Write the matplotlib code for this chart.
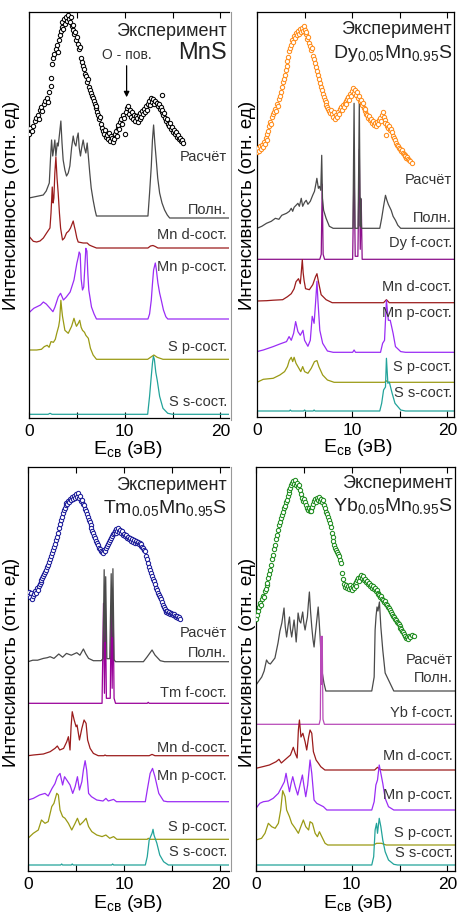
import numpy as np
import matplotlib.pyplot as plt
from matplotlib.lines import Line2D

plt.rcParams['font.family'] = ['Liberation Sans', 'DejaVu Sans']
plt.rcParams['mathtext.fontset'] = 'custom'
plt.rcParams['mathtext.rm'] = 'Liberation Sans'

# ---------- данные: (E_св, интенсивность), отн. ед ----------
# MnS
mns_exp = [(0.05, 14), (0.15, 20), (0.3, 17), (0.45, 22), (0.6, 27), (0.75, 30), (0.9, 33), (1.0, 29),
           (1.15, 38), (1.3, 41), (1.4, 37), (1.55, 44), (1.7, 47), (1.85, 50), (1.95, 46), (2.1, 56),
           (2.25, 62), (2.35, 70), (2.45, 84), (2.55, 90), (2.65, 94), (2.8, 99), (2.9, 103), (3.0, 96),
           (3.1, 108), (3.2, 113), (3.3, 117), (3.4, 121), (3.5, 126), (3.55, 119), (3.65, 129), (3.75, 124),
           (3.85, 131), (3.95, 127), (4.05, 133), (4.15, 129), (4.25, 126), (4.35, 131), (4.45, 122),
           (4.55, 118), (4.65, 123), (4.75, 114), (4.85, 116), (4.95, 108), (5.05, 111), (5.15, 104),
           (5.25, 99), (5.35, 101), (5.45, 90), (5.55, 86), (5.65, 82), (5.75, 79), (5.85, 74), (5.95, 72),
           (6.05, 66), (6.15, 69), (6.25, 61), (6.35, 58), (6.45, 55), (6.55, 52), (6.65, 50), (6.75, 47),
           (6.85, 44), (6.95, 40), (7.05, 42), (7.15, 36), (7.25, 33), (7.35, 29), (7.45, 31), (7.55, 24),
           (7.65, 20), (7.75, 17), (7.85, 14), (7.95, 18), (8.05, 11), (8.15, 13), (8.25, 9), (8.35, 15),
           (8.45, 7), (8.55, 12), (8.65, 10), (8.75, 6), (8.85, 9), (8.95, 14), (9.05, 17), (9.15, 12),
           (9.25, 20), (9.35, 23), (9.45, 19), (9.55, 26), (9.65, 29), (9.75, 24), (9.85, 33), (9.95, 30),
           (10.05, 14), (10.15, 36), (10.25, 40), (10.35, 42), (10.45, 34), (10.55, 38), (10.65, 31),
           (10.75, 36), (10.85, 29), (10.95, 33), (11.05, 27), (11.15, 32), (11.25, 30), (11.35, 26),
           (11.45, 33), (11.55, 29), (11.65, 35), (11.75, 31), (11.85, 37), (11.95, 34), (12.05, 39),
           (12.15, 36), (12.25, 42), (12.35, 38), (12.45, 44), (12.55, 47), (12.65, 43), (12.75, 50),
           (12.85, 46), (12.95, 49), (13.05, 44), (13.15, 47), (13.35, 45), (13.45, 42), (13.55, 44),
           (13.65, 39), (13.75, 41), (13.85, 36), (13.9, 53), (13.95, 38), (14.05, 33), (14.15, 35),
           (14.25, 30), (14.35, 27), (14.45, 29), (14.55, 24), (14.65, 22), (14.75, 25), (14.85, 19),
           (14.95, 21), (15.05, 16), (15.15, 18), (15.25, 14), (15.35, 16), (15.45, 11), (15.55, 13),
           (15.65, 9), (15.75, 10), (15.85, 7), (15.95, 8), (16.05, 5)]
mns_total = [(0, 20), (0.5, 21), (1.0, 22), (1.49, 23), (1.8, 27), (2.12, 35), (2.25, 60), (2.36, 78),
             (2.48, 62), (2.6, 70), (2.7, 78), (2.81, 62), (2.95, 75), (3.05, 72), (3.2, 85), (3.33, 97),
             (3.45, 75), (3.57, 58), (3.75, 48), (3.92, 42), (4.1, 45), (4.27, 52), (4.45, 70), (4.62, 82),
             (4.75, 75), (4.9, 72), (5.02, 80), (5.14, 85), (5.25, 70), (5.38, 62), (5.5, 70), (5.66, 78),
             (5.8, 70), (5.94, 65), (6.08, 75), (6.2, 62), (6.35, 45), (6.5, 30), (6.7, 18), (6.9, 8),
             (7.05, 2), (12.43, 2), (12.6, 25), (12.78, 52), (12.9, 78), (13.02, 93), (13.15, 75),
             (13.3, 58), (13.45, 40), (13.65, 25), (13.9, 15), (14.17, 8), (14.45, 3), (14.7, 0), (20.9, 0)]
mns_mn_d = [(0, 11.7), (0.45, 6.7), (0.8, 6), (1.15, 7), (1.5, 10), (1.84, 15), (2.19, 20), (2.3, 35),
            (2.43, 61), (2.52, 45), (2.6, 50), (2.7, 75), (2.81, 91), (2.93, 70), (3.05, 55), (3.18, 35),
            (3.3, 20), (3.5, 8), (3.7, 10), (3.92, 15), (4.15, 17), (4.34, 20), (4.5, 24), (4.62, 27),
            (4.73, 22), (4.83, 18), (5.0, 10), (5.14, 6), (5.66, 5), (6.08, 5), (6.3, 3), (6.53, 2),
            (7.05, 0), (12.43, 0), (12.7, 2), (12.95, 2.5), (13.2, 1.5), (13.47, 0), (20.9, 0)]
mns_mn_p = [(0, 6.3), (0.5, 10.7), (1.2, 14), (1.5, 17), (1.8, 15), (2.2, 10.7), (2.5, 7.3), (2.7, 11.7),
            (3.05, 22), (3.3, 25.7), (3.6, 19), (3.9, 22), (4.3, 27), (4.7, 39), (5.0, 55.7), (5.15, 62),
            (5.24, 67), (5.35, 65), (5.45, 40), (5.59, 29), (5.72, 32), (5.85, 55), (5.94, 70.7),
            (6.05, 68), (6.15, 45), (6.25, 29), (6.53, 12), (6.8, 5), (7.05, 0), (12.43, 0), (12.6, 5),
            (12.78, 19), (12.9, 35), (13.02, 49), (13.2, 56), (13.3, 50), (13.47, 36), (13.65, 26),
            (13.82, 19), (14.05, 9), (14.3, 2.3), (14.5, 0), (20.9, 0)]
mns_s_p = [(0, 9.3), (0.8, 9.3), (1.3, 10), (1.6, 12.7), (1.9, 14), (2.1, 12), (2.3, 17.7), (2.55, 17),
           (2.75, 20), (2.9, 26), (3.1, 33), (3.2, 39), (3.33, 59), (3.42, 50), (3.5, 43), (3.75, 29),
           (4.1, 26), (4.45, 33), (4.7, 41), (4.85, 36), (4.96, 33), (5.15, 36), (5.3, 39), (5.45, 32),
           (5.59, 29), (5.8, 27), (5.94, 24), (6.2, 21), (6.42, 11), (6.7, 4.3), (7.05, 0), (12.4, 0),
           (12.7, 2), (13.05, 4.3), (13.4, 2), (14.0, 0), (20.9, 0)]
mns_s_s = [(0, 0), (2.0, 0), (2.2, 1), (2.4, 0), (12.4, 0), (12.6, 18), (12.75, 35), (12.9, 51), (13.0, 58),
           (13.1, 55), (13.25, 42), (13.4, 34), (13.65, 18), (14.0, 6), (14.5, 1), (15.0, 0), (20.9, 0)]

# Dy0.05Mn0.95S
dy_exp = [(0.0, 15), (0.1, 19), (0.2, 16), (0.3, 21), (0.4, 18), (0.5, 22), (0.6, 20), (0.7, 25), (0.8, 23),
          (0.9, 29), (1.0, 27), (1.1, 33), (1.2, 36), (1.3, 41), (1.4, 45), (1.5, 43), (1.6, 50), (1.7, 53),
          (1.8, 55), (1.9, 58), (2.0, 56), (2.1, 63), (2.2, 61), (2.3, 68), (2.4, 71), (2.5, 75), (2.6, 80),
          (2.7, 85), (2.8, 88), (2.9, 92), (3.0, 97), (3.1, 101), (3.2, 106), (3.3, 110), (3.4, 116),
          (3.5, 119), (3.6, 122), (3.7, 127), (3.8, 125), (3.9, 131), (4.0, 129), (4.1, 134), (4.2, 132),
          (4.3, 136), (4.4, 133), (4.5, 138), (4.6, 135), (4.7, 139), (4.8, 136), (4.9, 141), (5.0, 137),
          (5.1, 133), (5.2, 135), (5.3, 128), (5.4, 130), (5.5, 124), (5.6, 121), (5.7, 117), (5.8, 119),
          (5.9, 111), (6.0, 108), (6.1, 104), (6.2, 100), (6.3, 96), (6.4, 92), (6.5, 88), (6.6, 84),
          (6.7, 80), (6.8, 77), (6.9, 73), (7.0, 70), (7.1, 67), (7.2, 65), (7.3, 62), (7.4, 60), (7.5, 58),
          (7.6, 56), (7.7, 54), (7.8, 57), (7.9, 53), (8.0, 50), (8.1, 55), (8.2, 48), (8.3, 52), (8.4, 50),
          (8.5, 55), (8.6, 53), (8.7, 58), (8.8, 60), (8.9, 57), (9.0, 62), (9.1, 60), (9.2, 64), (9.3, 66),
          (9.4, 63), (9.5, 68), (9.6, 70), (9.7, 67), (9.8, 73), (9.9, 71), (10.0, 76), (10.1, 79),
          (10.2, 74), (10.3, 77), (10.4, 72), (10.5, 75), (10.6, 69), (10.7, 71), (10.8, 66), (10.9, 67),
          (11.0, 62), (11.1, 64), (11.2, 59), (11.3, 56), (11.4, 58), (11.5, 53), (11.6, 52), (11.7, 49),
          (11.8, 51), (11.9, 47), (12.0, 48), (12.1, 44), (12.2, 46), (12.3, 42), (12.4, 44), (12.5, 41),
          (12.6, 45), (12.7, 43), (12.8, 47), (12.9, 49), (13.0, 46), (13.1, 52), (13.2, 55), (13.3, 50),
          (13.4, 47), (13.5, 44), (13.6, 32), (13.65, 41), (13.7, 43), (13.8, 39), (13.9, 41), (14.0, 37),
          (14.1, 38), (14.2, 35), (14.3, 31), (14.4, 29), (14.5, 27), (14.6, 24), (14.7, 22), (14.8, 21),
          (14.9, 19), (15.0, 18), (15.1, 16), (15.2, 17), (15.3, 14), (15.4, 13), (15.5, 12), (15.6, 11),
          (15.7, 9), (15.8, 10), (15.9, 8), (16.0, 7), (16.1, 6), (16.3, 4)]
dy_total = [(0, 0), (0.5, 2), (1.0, 5), (1.5, 7), (1.93, 10), (2.3, 9), (2.6, 13), (3.1, 15), (3.4, 17),
            (3.6, 20), (3.75, 17), (3.9, 21), (4.3, 25), (4.45, 22), (4.65, 30), (4.8, 22), (5.0, 26),
            (5.17, 28), (5.35, 24), (5.6, 27), (5.85, 33), (6.04, 37), (6.2, 45), (6.29, 50), (6.45, 40),
            (6.56, 42), (6.7, 38), (6.8, 73), (6.88, 30), (7.0, 18), (7.26, 10), (7.6, 2), (8.0, 0),
            (10.08, 0), (10.2, 125), (10.3, 0), (10.62, 0), (10.75, 128), (10.85, 2), (10.9, 30),
            (10.98, 0), (12.9, 0), (13.1, 10), (13.3, 22), (13.5, 33), (13.65, 28), (13.8, 24), (14.1, 18),
            (14.3, 12), (14.55, 8), (14.8, 3), (15.1, 0), (20.7, 0)]
dy_f = [(0, 0), (6.6, 0), (6.75, 5), (6.85, 75), (6.95, 5), (7.1, 0), (10.05, 0), (10.2, 95), (10.32, 3),
        (10.6, 3), (10.75, 110), (10.85, 10), (10.95, 60), (11.05, 0), (20.7, 0)]
dy_mn_d = [(0, 1.7), (1.0, 2), (1.7, 2.5), (2.7, 3), (3.2, 6), (3.6, 9), (3.9, 14), (4.1, 21), (4.36, 24),
           (4.55, 19), (4.65, 30), (4.76, 43), (4.85, 30), (4.95, 22), (5.1, 14), (5.5, 13), (5.86, 18),
           (6.15, 26), (6.3, 29), (6.5, 19), (6.74, 8), (7.26, 3), (7.9, 0), (13.3, 0), (13.6, 3),
           (13.9, 0), (20.7, 0)]
dy_mn_p = [(0, 0.7), (0.66, 2.3), (1.7, 5.7), (2.4, 8.3), (3.1, 10.7), (3.37, 15.7), (3.6, 12), (3.85, 19),
           (4.06, 30.7), (4.3, 20.7), (4.55, 17), (4.83, 22), (5.0, 12), (5.35, 6), (5.6, 12), (5.8, 36),
           (6.0, 29), (6.15, 49), (6.3, 71), (6.4, 52), (6.6, 22), (6.9, 9), (7.4, 1.3), (8.0, 0),
           (10.05, 0), (10.2, 2.3), (10.35, 0), (12.98, 0), (13.2, 9), (13.4, 12), (13.6, 52), (13.8, 32),
           (14.0, 32), (14.3, 19), (14.55, 5.7), (15.1, 0.7), (15.6, 0), (20.7, 0)]
dy_s_p = [(0, 0), (0.66, 3), (1.7, 4), (2.4, 7.3), (2.9, 10.7), (3.2, 15.7), (3.4, 22), (3.6, 25),
          (3.75, 20.7), (3.9, 25), (4.1, 19), (4.3, 15.7), (4.6, 10.7), (4.8, 15.7), (5.0, 10.7), (5.35, 9),
          (5.7, 14), (6.04, 20.7), (6.3, 21.7), (6.5, 15.7), (6.9, 7.3), (7.4, 2.3), (8.1, 0), (13.4, 0),
          (13.6, 1.5), (13.8, 0), (20.7, 0)]
dy_s_s = [(0, 0), (3.4, 0), (3.5, 1), (3.6, 0), (4.9, 0), (5.0, 1), (5.1, 0), (5.9, 0), (6.0, 1), (6.1, 0),
          (12.9, 0), (13.1, 7.7), (13.3, 21), (13.5, 24), (13.6, 52.7), (13.75, 27.7), (13.9, 29),
          (14.2, 17.7), (14.5, 7.7), (15.1, 1), (15.6, 0), (20.7, 0)]

# Tm0.05Mn0.95S
tm_exp = [(0.0, 26), (0.1, 29), (0.2, 24), (0.3, 28), (0.4, 22), (0.5, 25), (0.6, 27), (0.7, 30), (0.8, 28),
          (0.9, 33), (1.0, 31), (1.1, 35), (1.2, 37), (1.3, 39), (1.4, 41), (1.5, 43), (1.6, 45), (1.7, 47),
          (1.8, 49), (1.9, 51), (2.0, 54), (2.1, 56), (2.2, 59), (2.3, 62), (2.4, 65), (2.5, 68), (2.6, 71),
          (2.7, 74), (2.8, 77), (2.9, 81), (3.0, 84), (3.1, 88), (3.2, 93), (3.3, 97), (3.4, 101),
          (3.5, 104), (3.6, 108), (3.7, 111), (3.8, 113), (3.9, 116), (4.0, 118), (4.1, 117), (4.2, 120),
          (4.3, 119), (4.4, 122), (4.5, 121), (4.6, 124), (4.7, 122), (4.8, 125), (4.9, 123), (5.0, 127),
          (5.1, 124), (5.2, 128), (5.3, 123), (5.4, 125), (5.5, 120), (5.6, 121), (5.7, 117), (5.8, 116),
          (5.9, 112), (6.0, 110), (6.1, 107), (6.2, 104), (6.3, 101), (6.4, 99), (6.5, 96), (6.6, 93),
          (6.7, 90), (6.8, 88), (6.9, 85), (7.0, 83), (7.1, 80), (7.2, 78), (7.3, 76), (7.4, 73), (7.5, 72),
          (7.6, 70), (7.7, 69), (7.8, 68), (7.9, 71), (8.0, 70), (8.1, 73), (8.2, 75), (8.3, 77), (8.4, 79),
          (8.5, 81), (8.6, 83), (8.7, 85), (8.8, 87), (8.9, 88), (9.0, 90), (9.1, 88), (9.2, 92), (9.3, 90),
          (9.4, 93), (9.5, 89), (9.6, 91), (9.7, 88), (9.8, 90), (9.9, 86), (10.0, 87), (10.1, 85),
          (10.2, 86), (10.3, 83), (10.4, 84), (10.5, 82), (10.6, 83), (10.7, 80), (10.8, 82), (10.9, 79),
          (11.0, 81), (11.1, 78), (11.2, 80), (11.3, 78), (11.4, 79), (11.5, 77), (11.6, 78), (11.7, 75),
          (11.8, 77), (11.9, 74), (12.0, 73), (12.1, 71), (12.2, 70), (12.3, 65), (12.4, 62), (12.5, 58),
          (12.6, 54), (12.7, 51), (12.8, 48), (12.9, 45), (13.0, 42), (13.1, 40), (13.2, 37), (13.3, 33),
          (13.4, 31), (13.5, 28), (13.6, 26), (13.7, 24), (13.8, 22), (13.9, 19), (14.0, 16), (14.1, 14),
          (14.2, 12), (14.3, 10), (14.4, 9), (14.5, 10), (14.6, 8), (14.7, 9), (14.8, 7), (14.9, 8),
          (15.0, 7), (15.1, 6), (15.2, 7), (15.3, 5), (15.4, 4), (15.5, 5), (15.6, 3), (15.7, 4), (15.8, 2)]
tm_total = [(0, 0), (0.5, 1.5), (1.0, 1.5), (1.6, 3.3), (2.0, 4), (2.3, 5), (2.7, 3.3), (3.2, 7.7),
            (3.6, 4.5), (4.0, 8.3), (4.5, 6.5), (5.07, 9), (5.4, 6.5), (5.76, 12.7), (6.0, 8), (6.3, 3.3),
            (6.8, 1), (7.6, 1), (7.8, 3), (7.92, 92), (8.0, 20), (8.08, 85), (8.2, 3), (8.5, 3), (8.65, 88),
            (8.75, 25), (8.83, 93), (8.95, 2), (9.1, 0), (12.0, 0), (12.4, 5), (12.9, 11.7), (13.2, 6.7),
            (13.75, 1), (14.2, 0), (20.9, 0)]
tm_f = [(0, 0), (7.7, 0), (7.85, 100), (7.95, 10), (8.05, 95), (8.15, 5), (8.55, 5), (8.65, 95), (8.75, 15),
        (8.85, 100), (8.95, 5), (9.1, 0), (12.4, 0), (12.5, 1), (12.6, 0), (20.9, 0)]
tm_mn_d = [(0, 0), (0.55, 0.7), (1.6, 1.7), (2.3, 4), (2.8, 7.3), (3.05, 9.7), (3.3, 5.7), (3.7, 7.3),
           (4.03, 14), (4.2, 19), (4.37, 5.7), (4.48, 29), (4.6, 44), (4.8, 35.7), (5.0, 29), (5.1, 30.7),
           (5.35, 15.7), (5.6, 27.3), (5.83, 35.7), (6.04, 32.3), (6.2, 15.7), (6.46, 7.3), (6.8, 2.3),
           (7.3, 0), (7.9, 0), (8.0, 0.7), (8.15, 0), (12.6, 0), (12.9, 1.3), (13.2, 0), (20.9, 0)]
tm_mn_p = [(0, 1.7), (0.55, 3.3), (1.2, 6.7), (1.77, 8.3), (2.1, 5.7), (2.5, 13.3), (2.8, 18), (3.05, 25),
           (3.33, 28.3), (3.6, 16.7), (3.8, 25), (4.03, 21.7), (4.37, 16.7), (4.65, 8.3), (4.9, 15),
           (5.14, 25), (5.35, 11.7), (5.6, 20), (5.76, 31.7), (5.94, 41), (6.1, 31.7), (6.3, 8.3),
           (6.6, 5), (7.15, 1.7), (7.8, 0.7), (8.1, 3.3), (8.35, 0.7), (8.9, 2.3), (9.2, 0), (12.2, 0),
           (12.4, 11.7), (12.7, 28.3), (12.95, 33.3), (13.2, 25), (13.6, 8.3), (14.1, 0.7), (14.5, 0),
           (20.9, 0)]
tm_s_p = [(0, 1), (0.55, 6), (1.07, 9.3), (1.4, 19.3), (1.77, 16), (2.1, 17.7), (2.47, 32.7), (2.7, 36),
          (2.99, 46), (3.16, 44.3), (3.33, 29.3), (3.6, 22.7), (3.85, 21), (4.2, 16), (4.55, 9.3),
          (4.9, 16), (5.14, 21), (5.4, 14.3), (5.76, 17.7), (6.04, 21), (6.3, 12.7), (6.63, 7.7),
          (7.15, 4.3), (7.7, 2.7), (8.1, 4.3), (8.5, 1), (8.9, 2.7), (9.24, 0), (12.4, 0), (12.5, 1),
          (12.7, 0), (20.9, 0)]
tm_s_s = [(0, 0), (3.4, 0), (3.5, 1), (3.6, 0), (4.5, 0), (4.6, 1), (4.7, 0), (8.7, 0), (8.8, 1), (8.9, 0),
          (12.2, 0), (12.4, 8.3), (12.6, 25), (12.9, 31.7), (13.0, 35.7), (13.1, 30), (13.4, 21.7),
          (13.7, 10), (14.1, 3.3), (14.6, 0), (20.9, 0)]

# Yb0.05Mn0.95S
yb_exp = [(0.0, 22), (0.1, 26), (0.2, 30), (0.3, 34), (0.4, 38), (0.5, 36), (0.6, 42), (0.7, 45), (0.8, 44),
          (0.9, 50), (1.0, 52), (1.1, 56), (1.2, 58), (1.3, 63), (1.4, 67), (1.5, 71), (1.6, 76), (1.7, 82),
          (1.8, 86), (1.9, 92), (2.0, 96), (2.1, 102), (2.2, 106), (2.3, 111), (2.4, 116), (2.5, 119),
          (2.6, 123), (2.7, 126), (2.8, 129), (2.9, 133), (3.0, 135), (3.1, 139), (3.2, 141), (3.3, 145),
          (3.4, 148), (3.5, 151), (3.6, 153), (3.7, 156), (3.8, 158), (3.9, 160), (4.0, 157), (4.1, 161),
          (4.2, 156), (4.3, 158), (4.4, 154), (4.5, 156), (4.6, 151), (4.7, 147), (4.8, 143), (4.9, 140),
          (5.0, 142), (5.1, 139), (5.2, 136), (5.3, 133), (5.4, 131), (5.5, 133), (5.6, 130), (5.7, 132),
          (5.8, 130), (5.9, 134), (6.0, 137), (6.1, 140), (6.2, 142), (6.3, 139), (6.4, 143), (6.5, 141),
          (6.6, 144), (6.7, 140), (6.8, 142), (6.9, 139), (7.0, 141), (7.1, 136), (7.2, 133), (7.3, 129),
          (7.4, 127), (7.5, 124), (7.6, 121), (7.7, 118), (7.8, 114), (7.9, 108), (8.0, 104), (8.1, 100),
          (8.2, 96), (8.3, 93), (8.4, 91), (8.5, 89), (8.6, 87), (8.7, 85), (8.8, 81), (8.9, 78), (9.0, 68),
          (9.1, 62), (9.2, 57), (9.3, 54), (9.4, 56), (9.5, 53), (9.6, 55), (9.7, 52), (9.8, 56), (9.9, 53),
          (10.0, 51), (10.1, 55), (10.2, 53), (10.3, 57), (10.4, 55), (10.5, 59), (10.6, 61), (10.7, 63),
          (10.8, 60), (10.9, 64), (11.0, 66), (11.1, 63), (11.2, 65), (11.3, 61), (11.4, 62), (11.5, 59),
          (11.6, 60), (11.7, 57), (11.8, 58), (11.9, 55), (12.0, 56), (12.1, 53), (12.2, 55), (12.3, 52),
          (12.4, 53), (12.5, 50), (12.6, 51), (12.7, 48), (12.8, 47), (12.9, 46), (13.0, 44), (13.1, 45),
          (13.2, 42), (13.3, 41), (13.4, 39), (13.5, 40), (13.6, 37), (13.7, 36), (13.8, 34), (13.9, 33),
          (14.0, 31), (14.1, 29), (14.2, 27), (14.3, 25), (14.4, 24), (14.5, 22), (14.6, 21), (14.7, 19),
          (14.8, 18), (14.9, 17), (15.0, 15), (15.1, 13), (15.2, 12), (15.3, 10), (15.4, 9), (15.5, 7),
          (15.6, 5), (15.7, 3), (15.8, 4), (15.9, 2), (16.0, 5), (16.1, 4), (16.3, 6), (16.5, 5)]
yb_total = [(0, 6), (0.3, 10), (0.6, 14), (0.85, 20), (1.1, 31), (1.3, 28), (1.5, 27), (1.98, 33), (2.3, 48),
            (2.5, 60), (2.7, 68), (2.93, 83), (3.05, 65), (3.2, 54), (3.35, 65), (3.5, 74), (3.6, 62),
            (3.73, 54), (3.85, 62), (3.98, 71), (4.1, 60), (4.2, 49), (4.3, 62), (4.4, 78), (4.55, 70),
            (4.68, 68), (4.78, 74), (4.88, 79), (5.0, 68), (5.13, 61), (5.25, 68), (5.37, 74), (5.48, 88),
            (5.58, 99), (5.7, 80), (5.83, 64), (5.95, 52), (6.07, 44), (6.18, 55), (6.28, 64), (6.4, 75),
            (6.5, 84), (6.6, 70), (6.7, 54), (6.8, 35), (6.88, 21), (7.1, 8), (7.3, 0), (12.1, 0),
            (12.35, 14), (12.45, 61), (12.55, 75), (12.65, 84), (12.75, 80), (12.9, 89), (13.05, 64),
            (13.25, 41), (13.5, 18), (14.0, 8), (14.4, 0), (20.8, 0)]
yb_f = [(0, 0), (6.6, 0), (6.72, 5), (6.8, 88), (6.86, 40), (6.92, 88), (7.0, 5), (7.15, 0), (20.8, 0)]
yb_mn_d = [(0, 1.7), (0.7, 3.3), (1.4, 5), (2.1, 8.3), (2.4, 10.7), (2.65, 7), (3.0, 10), (3.6, 15),
           (3.9, 22.7), (4.1, 16.7), (4.3, 12), (4.43, 40), (4.54, 50), (4.7, 33), (4.9, 36.7),
           (5.13, 28.3), (5.3, 20), (5.5, 33), (5.65, 40), (5.83, 36.7), (6.0, 18.3), (6.28, 10),
           (6.53, 6.7), (6.77, 3.3), (7.2, 0), (12.4, 0), (12.7, 2.7), (12.95, 0.5), (13.3, 0), (20.8, 0)]
yb_mn_p = [(0, 1.7), (0.4, 6.7), (0.77, 8.3), (1.3, 9), (1.8, 11.7), (2.34, 16.7), (2.7, 23.3),
           (2.97, 28.3), (3.14, 36.7), (3.3, 28), (3.5, 18.3), (3.67, 26.7), (3.84, 33.3), (4.1, 23.3),
           (4.36, 15), (4.6, 25), (4.85, 35), (5.0, 25), (5.2, 13.3), (5.4, 25), (5.65, 50), (5.83, 36.7),
           (6.07, 10), (6.35, 6.7), (6.7, 5), (7.05, 3.3), (7.4, 0), (12.1, 0), (12.35, 8.3), (12.53, 25),
           (12.7, 30), (12.88, 45), (13.05, 36.7), (13.25, 26.7), (13.5, 11.7), (13.85, 3.3), (14.4, 0),
           (20.8, 0)]
yb_s_p = [(0, 5), (0.58, 6.7), (0.94, 11.7), (1.29, 21.7), (1.64, 18.3), (2.0, 16.7), (2.34, 21.7),
          (2.58, 35), (2.79, 54.3), (3.04, 48.3), (3.2, 35), (3.5, 28.3), (3.73, 21.7), (4.1, 16.7),
          (4.43, 11.7), (4.68, 18.3), (4.95, 25), (5.2, 18.3), (5.5, 15), (5.65, 23.3), (5.9, 21.7),
          (6.18, 11.7), (6.42, 8.3), (6.63, 13.3), (6.88, 8.3), (7.22, 1.7), (7.5, 0), (12.3, 0),
          (12.6, 1.7), (13.1, 1.7), (13.6, 0), (20.8, 0)]
yb_s_s = [(0, 0), (12.1, 0), (12.3, 8.3), (12.45, 35), (12.6, 41.7), (12.7, 31.7), (12.88, 46.7),
          (13.05, 38.3), (13.25, 25), (13.5, 13.3), (13.85, 5), (14.4, 0.7), (14.8, 0), (20.8, 0)]

# ---------- оформление ----------
W, H = 459, 913
fig = plt.figure(figsize=(W / 100, H / 100), dpi=100)

C_TOT = '#4a4a4a'
C_MND = '#9b1c1c'
C_MNP = '#9a2cf5'
C_SP = '#9a9a14'
C_SS = '#22a39a'
C_TXT = '#333333'

panels = [
    dict(box=(29, 229, 12, 418), xmax=20.9, right=False, ylim=406,
         exp=mns_exp, exp_c='black', exp_off=270,
         curves=[(mns_total, C_TOT, 200), (mns_mn_d, C_MND, 170), (mns_mn_p, C_MNP, 99),
                 (mns_s_p, C_SP, 58.7), (mns_s_s, C_SS, 3.7)],
         labels=[('Расчёт', 261), ('Полн.', 208), ('Mn d-сост.', 183), ('Mn p-сост.', 151),
                 ('S p-сост.', 71), ('S s-сост.', 16)],
         title=('Эксперимент', 386), name=('MnS', 365, 17),
         ylab=(12, 205), xlab=(128, 449)),
    dict(box=(257, 454, 12, 417), xmax=20.7, right=True, ylim=405,
         exp=dy_exp, exp_c='#ff8c1a', exp_off=250,
         curves=[(dy_f, '#8b108b', 157.7), (dy_total, C_TOT, 188.7), (dy_mn_d, C_MND, 114.3),
                 (dy_mn_p, C_MNP, 64.7), (dy_s_p, C_SP, 34.7), (dy_s_s, C_SS, 6)],
         labels=[('Расчёт', 237), ('Полн.', 199), ('Dy f-сост.', 174), ('Mn d-сост.', 130),
                 ('Mn p-сост.', 104), ('S p-сост.', 50), ('S s-сост.', 24)],
         title=('Эксперимент', 387),
         name=(r'$\mathregular{Dy_{0.05}Mn_{0.95}S}$', 364, 14),
         ylab=(247, 205), xlab=(358, 447)),
    dict(box=(28, 229, 467, 871), xmax=20.9, right=False, ylim=404,
         exp=tm_exp, exp_c='#1a1a99', exp_off=250,
         curves=[(tm_f, '#990099', 167.7), (tm_total, C_TOT, 209.3), (tm_mn_d, C_MND, 115.3),
                 (tm_mn_p, C_MNP, 69.3), (tm_s_p, C_SP, 31.7), (tm_s_s, C_SS, 6)],
         labels=[('Расчёт', 238), ('Полн.', 218), ('Tm f-сост.', 178), ('Mn d-сост.', 123),
                 ('Mn p-сост.', 95), ('S p-сост.', 44), ('S s-сост.', 19)],
         title=('Эксперимент', 386),
         name=(r'$\mathregular{Tm_{0.05}Mn_{0.95}S}$', 363, 14),
         ylab=(12, 662), xlab=(128, 903)),
    dict(box=(256, 455, 467, 871), xmax=20.8, right=True, ylim=404,
         exp=yb_exp, exp_c='#1e8c1e', exp_off=230,
         curves=[(yb_total, C_TOT, 180), (yb_f, '#b84ab8', 146.7), (yb_mn_d, C_MND, 101),
                 (yb_mn_p, C_MNP, 61), (yb_s_p, C_SP, 26), (yb_s_s, C_SS, 6)],
         labels=[('Расчёт', 211), ('Полн.', 193), ('Yb f-сост.', 158), ('Mn d-сост.', 115),
                 ('Mn p-сост.', 76), ('S p-сост.', 38), ('S s-сост.', 18)],
         title=('Эксперимент', 388),
         name=(r'$\mathregular{Yb_{0.05}Mn_{0.95}S}$', 365, 14),
         ylab=(247, 662), xlab=(358, 903)),
]

for p in panels:
    l, r, t, b = p['box']
    ax = fig.add_axes([l / W, 1 - b / H, (r - l) / W, (b - t) / H])
    ax.set_xlim(0, p['xmax'])
    ax.set_ylim(0, p['ylim'])

    for data, color, off in p['curves']:
        arr = np.array(data, dtype=float)
        ax.plot(arr[:, 0], arr[:, 1] + off, color=color, lw=0.9, zorder=2)

    ex = np.array(p['exp'], dtype=float)
    ax.plot(ex[:, 0], ex[:, 1] + p['exp_off'], 'o', ms=3.1, mfc='white', mec=p['exp_c'],
            mew=0.75, zorder=3)

    tr = ax.get_yaxis_transform()
    for txt, y in p['labels']:
        ax.text(0.99, y, txt, transform=tr, ha='right', va='center', fontsize=10.5, color=C_TXT)
    ax.text(0.99, p['title'][1], p['title'][0], transform=tr, ha='right', va='center',
            fontsize=13, color='#222222')
    nm, ny, fs = p['name']
    ax.text(0.99, ny, nm, transform=tr, ha='right', va='center', fontsize=fs, color='#222222')

    ax.set_xticks([0, 10, 20])
    ax.set_xticks([5, 15], minor=True)
    ax.set_yticks([])
    ax.tick_params(axis='x', which='both', direction='in', top=True, bottom=True,
                   length=4, width=0.8, labelsize=12.5, pad=4)
    for s in ax.spines.values():
        s.set_linewidth(0.9)
    if not p['right']:
        ax.spines['right'].set_visible(False)

    fig.text(p['ylab'][0] / W, 1 - p['ylab'][1] / H, 'Интенсивность (отн. ед)', rotation=90,
             ha='center', va='center', fontsize=13.5)
    fig.text(p['xlab'][0] / W, 1 - p['xlab'][1] / H, r'$\mathregular{E_{св}}$ (эВ)',
             ha='center', va='center', fontsize=14)

# стрелка «O - пов.» на панели MnS
ax0 = fig.axes[0]
ax0.text(10.2, 363, 'O - пов.', ha='center', va='center', fontsize=10, color=C_TXT)
ax0.annotate('', xy=(10.2, 318), xytext=(10.2, 355),
             arrowprops=dict(arrowstyle='-|>', color='black', lw=0.9, mutation_scale=8))

# граница между левой и правой колонками
for y0, y1 in [(12, 420), (467, 871)]:
    fig.add_artist(Line2D([231 / W, 231 / W], [1 - y0 / H, 1 - y1 / H], color='#999999', lw=0.8))

fig.savefig('out.png', dpi=100)
